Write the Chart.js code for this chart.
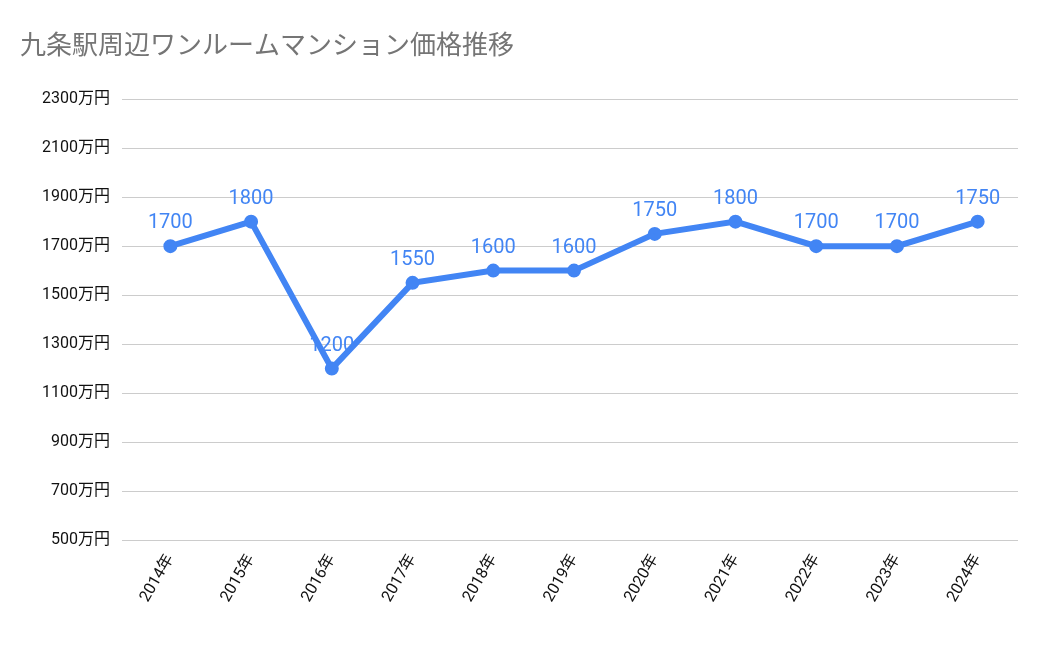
<!DOCTYPE html>
<html><head><meta charset="utf-8">
<script src="https://cdn.jsdelivr.net/npm/chart.js@4"></script>
<style>html,body{margin:0;padding:0;background:#fff}#w{width:1050px;height:649px;position:relative}</style>
</head><body><div id="w"><canvas id="c"></canvas></div>
<script>
const categories=["2014年","2015年","2016年","2017年","2018年","2019年","2020年","2021年","2022年","2023年","2024年"];
const values=[1700,1800,1200,1550,1600,1600,1750,1800,1700,1700,1800];
const pointLabels=["1700","1800","1200","1550","1600","1600","1750","1800","1700","1700","1750"];
const yTicks=[500,700,900,1100,1300,1500,1700,1900,2100,2300];
const FONT='Roboto, "Noto Sans CJK JP", sans-serif';
const labelPlugin={id:'lbl',afterDatasetsDraw(ch){const c=ch.ctx;const m=ch.getDatasetMeta(0);c.save();c.fillStyle='#4285F4';c.font='20px '+FONT;c.textAlign='center';c.textBaseline='bottom';m.data.forEach((p,i)=>c.fillText(pointLabels[i],p.x,p.y-13));c.restore();}};
new Chart(document.getElementById('c'),{type:'line',
data:{labels:categories,datasets:[{data:values,borderColor:'#4285F4',backgroundColor:'#4285F4',borderWidth:6,pointRadius:4,pointBackgroundColor:'#4285F4',tension:0}]},
options:{responsive:true,maintainAspectRatio:false,animation:false,
layout:{padding:{left:20,right:32,top:14,bottom:14}},
plugins:{legend:{display:false},tooltip:{enabled:false},
title:{display:true,text:'九条駅周辺ワンルームマンション価格推移',align:'start',color:'#757575',font:{family:FONT,size:26,weight:'normal'},padding:{top:18,bottom:36}}},
scales:{x:{offset:true,grid:{display:false},border:{display:false},afterFit(s){s.height=95;},ticks:{color:'#111',font:{family:FONT,size:16},maxRotation:60,minRotation:60}},
y:{min:500,max:2300,afterBuildTicks(a){a.ticks=yTicks.map(v=>({value:v}));},afterFit(s){s.width=110;},grid:{color:'#cccccc'},border:{display:false},ticks:{color:'#111',font:{family:FONT,size:16},callback:v=>v+'万円',padding:12}}}},
plugins:[labelPlugin]});
</script></body></html>
